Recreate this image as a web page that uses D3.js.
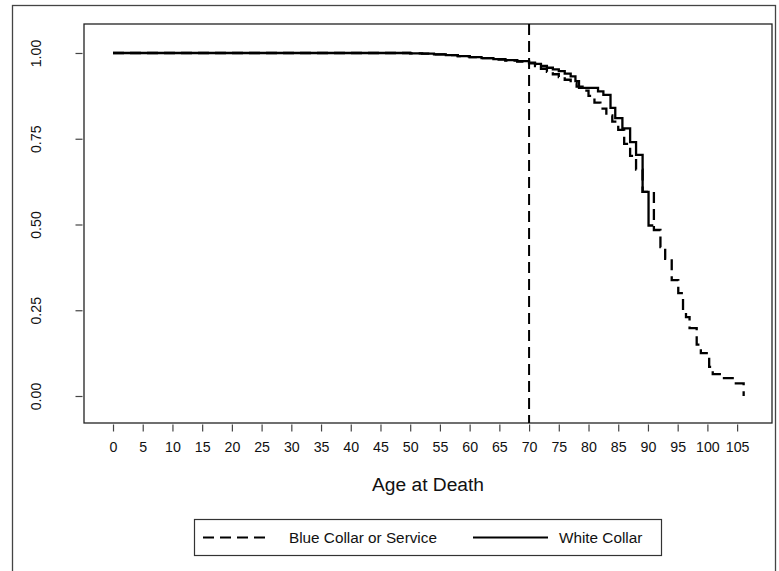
<!DOCTYPE html>
<html>
<head>
<meta charset="utf-8">
<script src="https://cdn.jsdelivr.net/npm/d3@7"></script>
<style>
  html, body { margin: 0; padding: 0; background: #fff; }
  svg { display: block; font-family: "Liberation Sans", Arial, sans-serif; }
</style>
</head>
<body>
<svg id="chart"></svg>
<script>
// ----------------------------------
// Data
// ----------------------------------
const whiteAges = [0, 50, 52, 54, 56, 58, 60, 62, 64, 66, 68, 70, 71, 72, 73, 74, 75, 76, 77, 77.8, 78.4,
  81.6, 82.5, 83.7, 84.5, 85.7, 87.0, 88.0, 89.1, 90.1, 90.9];
const whiteSurv = [1, 0.999, 0.998, 0.996, 0.994, 0.991, 0.988, 0.985, 0.982, 0.979, 0.976, 0.972, 0.968,
  0.962, 0.957, 0.952, 0.947, 0.940, 0.932, 0.918, 0.898, 0.888, 0.878, 0.840, 0.810, 0.780, 0.740, 0.703,
  0.595, 0.497, 0.497];

const blueAges = [0, 50, 52, 54, 56, 58, 60, 62, 64, 66, 68, 70, 71, 72, 73, 74, 75, 76, 77, 78, 79, 80,
  81, 82, 83, 84, 85, 86, 87, 88, 89.1, 91.0, 92.1, 92.9, 94.0, 95.1, 95.9, 96.4, 97.0, 98.2, 98.9, 100.3,
  100.9, 102.5, 104.5, 106.1];
const blueSurv = [1, 0.999, 0.998, 0.996, 0.994, 0.991, 0.988, 0.985, 0.981, 0.978, 0.975, 0.970, 0.962,
  0.954, 0.945, 0.938, 0.930, 0.922, 0.912, 0.902, 0.890, 0.875, 0.855, 0.838, 0.818, 0.800, 0.776, 0.735,
  0.700, 0.660, 0.595, 0.484, 0.434, 0.400, 0.338, 0.300, 0.245, 0.230, 0.198, 0.150, 0.125, 0.085, 0.064,
  0.052, 0.037, 0];

const xTicks = d3.range(0, 106, 5);
const yTicks = [0, 0.25, 0.5, 0.75, 1];
const cutoffAge = 70;
const xLabel = "Age at Death";
const legendLabels = ["Blue Collar or Service", "White Collar"];

// ----------------------------------
// Setup
// ----------------------------------
const width = 779, height = 571;
const plot = { left: 84, right: 772, top: 24, bottom: 423 };

const svg = d3.select("#chart").attr("width", width).attr("height", height);

const x = d3.scaleLinear().domain([-4.88, 110.87]).range([plot.left, plot.right]);
const y = d3.scaleLinear().domain([-0.0787, 1.0845]).range([plot.bottom, plot.top]);

// outer frame
svg.append("rect")
  .attr("x", 12.5).attr("y", 5.5)
  .attr("width", 763).attr("height", 580)
  .attr("fill", "none").attr("stroke", "#444").attr("stroke-width", 1.3);

// plot box
svg.append("rect")
  .attr("x", plot.left).attr("y", plot.top)
  .attr("width", plot.right - plot.left).attr("height", plot.bottom - plot.top)
  .attr("fill", "none").attr("stroke", "#222").attr("stroke-width", 1.3);

// ----------------------------------
// Axes
// ----------------------------------
const xAxis = svg.append("g")
  .attr("transform", `translate(0,${plot.bottom + 1.5})`)
  .call(d3.axisBottom(x).tickValues(xTicks).tickSize(7).tickPadding(10).tickFormat(d3.format("d")));
xAxis.select(".domain").remove();

const yAxis = svg.append("g")
  .attr("transform", `translate(${plot.left - 1.5},0)`)
  .call(d3.axisLeft(y).tickValues(yTicks).tickSize(7).tickFormat(d3.format(".2f")));
yAxis.select(".domain").remove();

svg.selectAll(".tick line").attr("stroke", "#444").attr("stroke-width", 1.2);
xAxis.selectAll("text")
  .attr("fill", "#111").style("font-size", "14.2px")
  .attr("font-family", "Liberation Sans, Arial, sans-serif");
yAxis.selectAll("text")
  .attr("fill", "#111").style("font-size", "14.2px")
  .attr("font-family", "Liberation Sans, Arial, sans-serif")
  .attr("text-anchor", "middle")
  .attr("dy", null)
  .attr("x", null)
  .attr("transform", "translate(-42,0) rotate(-90)");

svg.append("text")
  .attr("x", (plot.left + plot.right) / 2)
  .attr("y", 490.5)
  .attr("text-anchor", "middle")
  .style("font-size", "19.2px")
  .attr("fill", "#111")
  .text(xLabel);

// ----------------------------------
// Curves
// ----------------------------------
const line = d3.line()
  .x(d => x(d[0]))
  .y(d => y(d[1]))
  .curve(d3.curveStepAfter);

const whiteData = whiteAges.map((a, i) => [a, whiteSurv[i]]);
const blueData = blueAges.map((a, i) => [a, blueSurv[i]]);

svg.append("path")
  .datum(blueData)
  .attr("d", line)
  .attr("fill", "none").attr("stroke", "#000")
  .attr("stroke-width", 2.3).attr("stroke-dasharray", "11,6");

svg.append("path")
  .datum(whiteData)
  .attr("d", line)
  .attr("fill", "none").attr("stroke", "#000")
  .attr("stroke-width", 2.3);

// retirement-age reference line
svg.append("line")
  .attr("x1", x(cutoffAge)).attr("x2", x(cutoffAge))
  .attr("y1", plot.top).attr("y2", plot.bottom)
  .attr("stroke", "#000").attr("stroke-width", 2)
  .attr("stroke-dasharray", "11,6");

// ----------------------------------
// Legend
// ----------------------------------
const legend = svg.append("g");
legend.append("rect")
  .attr("x", 194.5).attr("y", 519.5).attr("width", 467).attr("height", 36)
  .attr("fill", "none").attr("stroke", "#333").attr("stroke-width", 1.2);

const legendItems = [
  { label: legendLabels[0], x1: 203, x2: 271, tx: 289, dash: "11,6" },
  { label: legendLabels[1], x1: 473, x2: 548, tx: 559, dash: null }
];
legendItems.forEach(item => {
  legend.append("line")
    .attr("x1", item.x1).attr("x2", item.x2)
    .attr("y1", 537.5).attr("y2", 537.5)
    .attr("stroke", "#000").attr("stroke-width", 2.2)
    .attr("stroke-dasharray", item.dash);
  legend.append("text")
    .attr("x", item.tx).attr("y", 543)
    .style("font-size", "15.3px")
    .attr("fill", "#111")
    .text(item.label);
});
</script>
</body>
</html>
